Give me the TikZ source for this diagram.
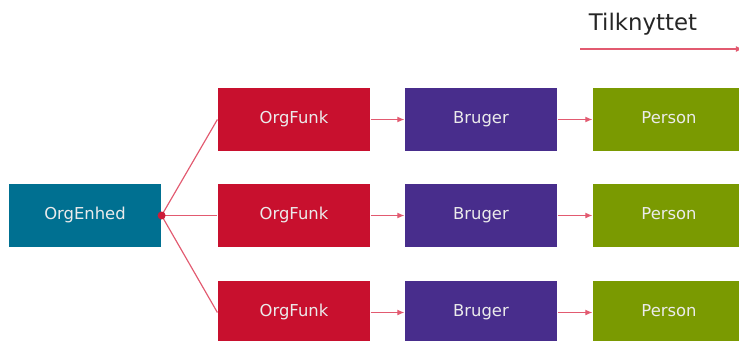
\documentclass[tikz,border=0pt]{standalone}
\usepackage{fontspec}
\setmainfont{DejaVu Sans}
\usepackage{tikz}
\usetikzlibrary{positioning,arrows.meta}
\definecolor{enhedblue}{RGB}{0,112,145}
\definecolor{funkred}{RGB}{200,16,46}
\definecolor{brugerpurple}{RGB}{72,45,140}
\definecolor{persongreen}{RGB}{122,154,1}
\definecolor{linkred}{RGB}{226,90,112}
\def\boxw{4.56cm}
\def\boxh{1.89cm}

\begin{document}
\begin{tikzpicture}[x=0.03cm, y=-0.03cm, >={Latex[length=6pt,width=5pt]}, line width=1pt]
        \useasboundingbox (0,0) rectangle (739,340);
        \clip (0,0) rectangle (739,340);
        \tikzstyle{box}=[rectangle, minimum width=\boxw, minimum height=\boxh, inner sep=0pt, text height=1.9ex, text depth=0.5ex, text=white!92!black, font=\fontsize{14}{16}\selectfont];
        \tikzstyle{enhed box}=[box, fill=enhedblue];
        \tikzstyle{funk box}=[box, fill=funkred];
        \tikzstyle{bruger box}=[box, fill=brugerpurple];
        \tikzstyle{person box}=[box, fill=persongreen];
        \tikzstyle{link}=[->, draw=linkred, shorten >=0pt];

        % legend
        \node[font=\fontsize{19.5}{22}\selectfont, text=black!85] (tk) at (643,24) {Tilknyttet};
        \coordinate (tk-start) at (580,49);
        \coordinate (tk-end) at (743,49);
        \draw[link, line width=1.4pt] (tk-start) -- (tk-end);

        % org unit
        \node[enhed box] (orgenhed) at (85,215.5) {OrgEnhed};
        % rows
        \foreach \name / \y in {1/119.5, 2/215.5, 3/312.5} {
            \node[funk box] (orgfunk-\name) at (294,\y) {OrgFunk};
            \node[bruger box] (bruger-\name) at (481,\y) {Bruger};
            \node[person box] (person-\name) at (669,\y) {Person};
        }
        % connect rows
        \foreach \name in {1,2,3} {
            \draw[draw=linkred] (orgenhed.east) -- (orgfunk-\name.west);
            \draw[link] (orgfunk-\name) -- (bruger-\name);
            \draw[link] (bruger-\name) -- (person-\name);
        }
        \fill[funkred!85!linkred] (orgenhed.east) circle (4);
    \end{tikzpicture}
\end{document}
